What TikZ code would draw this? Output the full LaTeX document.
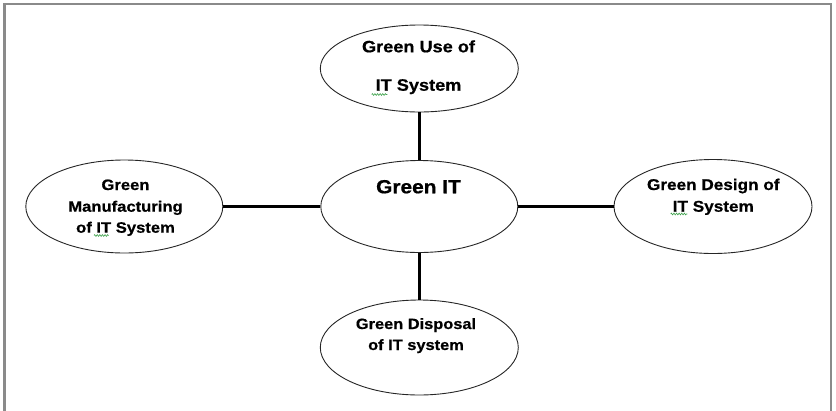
\documentclass[tikz,border=0pt]{standalone}
\usepackage{fontspec}
\setmainfont{Liberation Sans}[FakeStretch=1.1, BoldFeatures={FakeBold=0.6}]
\usetikzlibrary{shapes.geometric,decorations.pathmorphing}

\definecolor{framegray}{HTML}{8A8A8A}
\definecolor{spellgreen}{HTML}{3FA34D}

\tikzset{
  bubble/.style={ellipse, draw=black!85, line width=0.9pt, fill=white, inner sep=0pt},
  link/.style={draw=black, line width=3.5pt},
  lbl/.style={anchor=base, inner sep=0pt, font=\bfseries},
  squiggle/.style={draw=spellgreen, line width=0.6pt, decorate,
    decoration={zigzag, segment length=2.6pt, amplitude=0.9pt}},
  framebox/.style={draw=framegray, line width=2.6pt}
}

\begin{document}
\begin{tikzpicture}[x=1pt,y=-1pt]
\useasboundingbox (0,0) rectangle (836,410);

% outer frame, open at the bottom
\draw[framebox] (4.5,411) |- (831,4) -- (831,411);

% ellipses
\node[bubble, minimum width=198pt, minimum height=87pt] (use)  at (419.3,68.5) {};
\node[bubble, minimum width=197pt, minimum height=92pt] (core) at (419.3,206.5) {};
\node[bubble, minimum width=197pt, minimum height=93pt] (manu) at (124.3,206.5) {};
\node[bubble, minimum width=198pt, minimum height=94pt] (dsgn) at (713,206.5) {};
\node[bubble, minimum width=198pt, minimum height=95pt] (disp) at (419.3,347.5) {};

% connectors
\draw[link] (use) -- (core);
\draw[link] (core) -- (disp);
\draw[link] (manu) -- (core);
\draw[link] (core) -- (dsgn);

% labels
\node[lbl, font=\bfseries\fontsize{16.5}{20}\selectfont] (use1) at (418.5,52.3) {Green Use of};
\node[lbl, font=\bfseries\fontsize{16.5}{20}\selectfont] (use2) at (418.5,90.7) {IT System};

\node[lbl, font=\bfseries\fontsize{19}{22}\selectfont] (core1) at (418.5,193.3) {Green IT};

\node[lbl, font=\bfseries\fontsize{15.1}{18}\selectfont] (manu1) at (125.5,190) {Green};
\node[lbl, font=\bfseries\fontsize{15.1}{18}\selectfont] (manu2) at (125.5,211.7) {Manufacturing};
\node[lbl, font=\bfseries\fontsize{15.1}{18}\selectfont] (manu3) at (125.5,232.7) {of IT System};

\node[lbl, font=\bfseries\fontsize{15.6}{18}\selectfont] (dsgn1) at (713.3,190) {Green Design of};
\node[lbl, font=\bfseries\fontsize{15.6}{18}\selectfont] (dsgn2) at (713.3,211.7) {IT System};

\node[lbl, font=\bfseries\fontsize{14.9}{18}\selectfont] (disp1) at (416,329) {Green Disposal};
\node[lbl, font=\bfseries\fontsize{14.9}{18}\selectfont] (disp2) at (416,350) {of IT system};

% spell-check marks under "IT"
\draw[squiggle] (371.7,94.5) -- (387.3,94.5);
\draw[squiggle] (94,235.5) -- (108.5,235.5);
\draw[squiggle] (670.7,214) -- (687.3,214);
\end{tikzpicture}
\end{document}
